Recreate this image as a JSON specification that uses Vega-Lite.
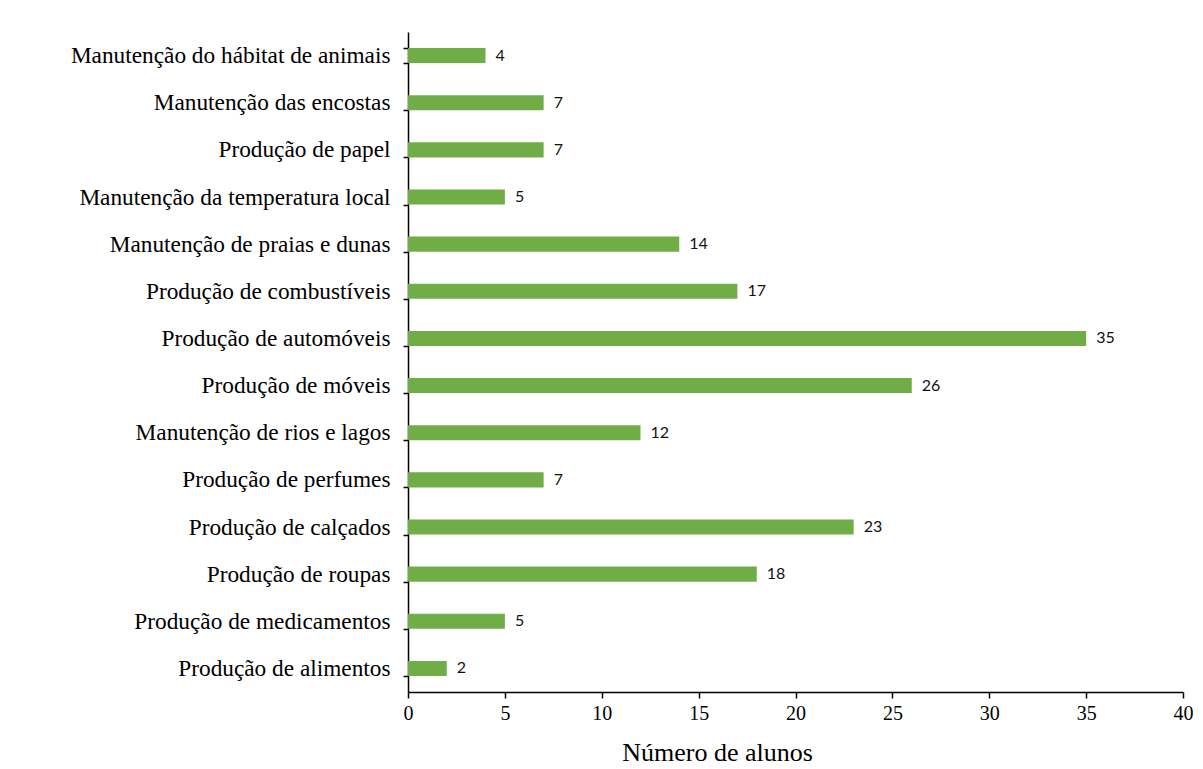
{
  "$schema": "https://vega.github.io/schema/vega-lite/v6.json",
  "width": 775,
  "height": 660,
  "autosize": {"type": "none"},
  "padding": {"left": 408, "top": 32, "right": 20, "bottom": 77},
  "background": "white",
  "config": {"view": {"stroke": null}},
  "data": {"values": [
    {"cat": "Manutenção do hábitat de animais", "n": 4},
    {"cat": "Manutenção das encostas", "n": 7},
    {"cat": "Produção de papel", "n": 7},
    {"cat": "Manutenção da temperatura local", "n": 5},
    {"cat": "Manutenção de praias e dunas", "n": 14},
    {"cat": "Produção de combustíveis", "n": 17},
    {"cat": "Produção de automóveis", "n": 35},
    {"cat": "Produção de móveis", "n": 26},
    {"cat": "Manutenção de rios e lagos", "n": 12},
    {"cat": "Produção de perfumes", "n": 7},
    {"cat": "Produção de calçados", "n": 23},
    {"cat": "Produção de roupas", "n": 18},
    {"cat": "Produção de medicamentos", "n": 5},
    {"cat": "Produção de alimentos", "n": 2}
  ]},
  "encoding": {
    "y": {
      "field": "cat", "type": "nominal", "sort": null,
      "scale": {"paddingInner": 0.68, "paddingOuter": 0.34},
      "axis": {
        "title": null, "domainColor": "black", "domainWidth": 1.5,
        "tickColor": "black", "tickWidth": 1.5, "tickSize": 5, "tickBand": "extent",
        "labelFont": "Liberation Serif", "labelFontSize": 23.3, "labelColor": "black",
        "labelPadding": 13, "labelLimit": 420
      }
    },
    "x": {
      "field": "n", "type": "quantitative",
      "scale": {"domain": [0, 40], "nice": false},
      "axis": {
        "title": "Número de alunos", "values": [0,5,10,15,20,25,30,35,40],
        "grid": false, "domainColor": "black", "domainWidth": 1.5,
        "tickColor": "black", "tickWidth": 1.5, "tickSize": 6,
        "labelFont": "Liberation Serif", "labelFontSize": 20, "labelColor": "black",
        "labelPadding": 5, "labelFlush": false,
        "titleFont": "Liberation Serif", "titleFontSize": 26, "titleFontWeight": "normal",
        "titleColor": "black", "titlePadding": 16, "titleX": 309
      }
    }
  },
  "layer": [
    {"mark": {"type": "bar", "color": "#70AD47"}},
    {"mark": {"type": "text", "align": "left", "dx": 10, "font": "Lato", "fontSize": 16, "color": "#111"},
     "encoding": {"text": {"field": "n"}}}
  ]
}
